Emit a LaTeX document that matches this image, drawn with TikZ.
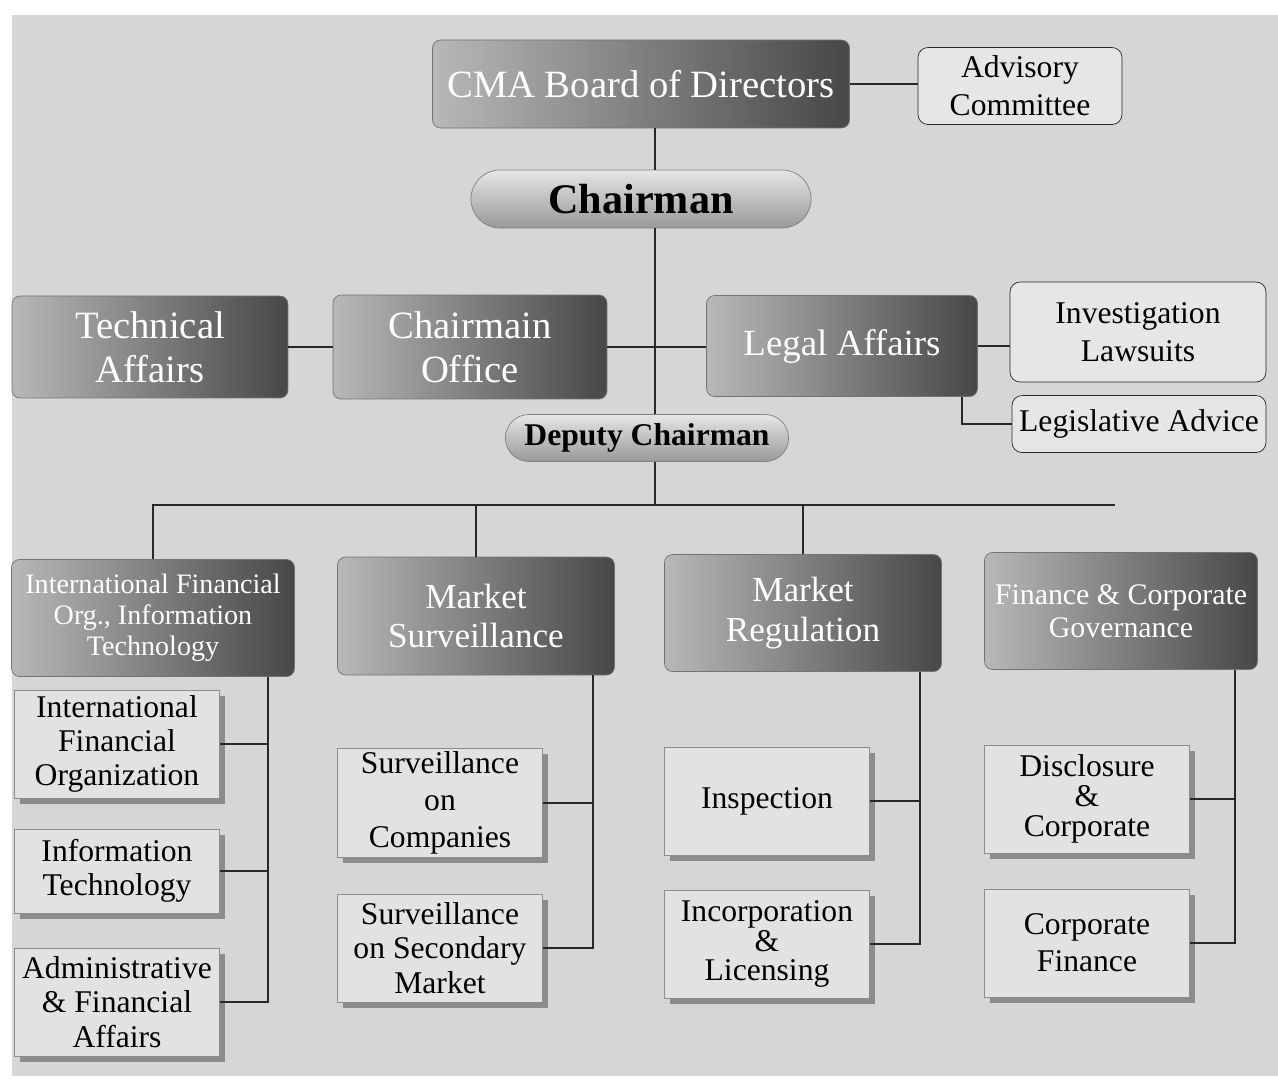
\documentclass[tikz,border=0pt]{standalone}
\usepackage{fontspec}
\setmainfont{Liberation Serif}
\usepackage{xcolor}
\definecolor{PaperGray}{RGB}{214,214,214}
\definecolor{BoxLight}{RGB}{226,226,226}
\definecolor{LineGray}{RGB}{40,40,40}
\usepackage{tikz}
\usetikzlibrary{
    positioning,
    shadows,
    shapes.misc
}

\begin{document}
\begin{tikzpicture}[
    x=0.02cm,y=-0.02cm,
    darkbox/.style={
        rounded corners=1.6mm,
        left color=black!28,
        right color=black!72,
        draw=black!55,
        text=white,
        align=center,
        inner sep=2pt
    },
    subbox/.style={
        draw=black!45,
        fill=BoxLight,
        align=center,
        inner sep=2pt,
        minimum width=41mm,
        drop shadow={shadow xshift=1.1mm, shadow yshift=-1.1mm, fill=black!45, opacity=1},
        font=\fontsize{18}{19.5}\selectfont
    },
    notebox/.style={
        draw=black!85,
        fill=PaperGray!60!white,
        rounded corners=2mm,
        align=center,
        font=\fontsize{18}{21.5}\selectfont
    },
    pillbox/.style={
        rounded rectangle,
        top color=black!10,
        bottom color=black!40,
        draw=black!50
    },
    link/.style={
        draw=LineGray,
        line width=0.8pt
    }
]
%
    \useasboundingbox (0,0) rectangle (1278,1086);
    \fill[white] (0,0) rectangle (1278,1086);
    \fill[PaperGray] (12,15) rectangle (1278,1076);
%
    % Top of the chart
%
    \node[
        darkbox,
        minimum width=83.4mm,
        minimum height=17.6mm,
        font=\fontsize{22}{25}\selectfont
    ] (board) at (641,84) {CMA Board of Directors};
%
    \node[
        notebox,
        minimum width=40.8mm,
        minimum height=15.4mm
    ] (advisory) at (1020,86) {Advisory\\Committee};
%
    \node[
        pillbox,
        minimum width=70.4mm,
        minimum height=11.6mm,
        font=\fontsize{24}{26}\selectfont\bfseries
    ] (chair) at (641,199) {Chairman};
%
    \node[
        darkbox,
        minimum width=55.2mm,
        minimum height=20.4mm,
        font=\fontsize{22}{25}\selectfont
    ] (technical) at (150,347) {Technical\\Affairs};
%
    \node[
        darkbox,
        minimum width=54.8mm,
        minimum height=20.8mm,
        font=\fontsize{22}{25}\selectfont
    ] (office) at (470,347) {Chairmain\\Office};
%
    \node[
        darkbox,
        minimum width=54.2mm,
        minimum height=20.2mm,
        font=\fontsize{21}{24}\selectfont
    ] (legal) at (842,346) {Legal Affairs};
%
    \node[
        notebox,
        minimum width=51.2mm,
        minimum height=20mm
    ] (invest) at (1138,332) {Investigation\\Lawsuits};
%
    \node[
        notebox,
        minimum width=50.8mm,
        minimum height=11.4mm
    ] (legis) at (1139,424) {Legislative Advice};
%
    \node[
        pillbox,
        minimum width=59mm,
        minimum height=9.4mm,
        font=\fontsize{18}{20}\selectfont\bfseries
    ] (deputy) at (647,438) {Deputy Chairman};
%
    % Departments
%
    \node[
        darkbox,
        minimum width=56.6mm,
        minimum height=23.4mm,
        font=\fontsize{16}{17.5}\selectfont
    ] (ifo) at (153,618) {International Financial\\Org., Information\\Technology};
%
    \node[
        darkbox,
        minimum width=55.4mm,
        minimum height=23.6mm,
        font=\fontsize{20}{22.5}\selectfont
    ] (msurv) at (476,616) {Market\\Surveillance};
%
    \node[
        darkbox,
        minimum width=55.4mm,
        minimum height=23.4mm,
        font=\fontsize{20}{22.5}\selectfont
    ] (mreg) at (803,613) {Market\\Regulation};
%
    \node[
        darkbox,
        minimum width=54.6mm,
        minimum height=23.4mm,
        font=\fontsize{17}{19}\selectfont
    ] (fincg) at (1121,611) {Finance \& Corporate\\Governance};
%
    % Sections
%
    \node[subbox, minimum height=21.6mm] (ifo-intl) at (117,744) {International\\Financial\\Organization};
    \node[subbox, minimum height=16.8mm] (ifo-it) at (117,871) {Information\\Technology};
    \node[subbox, minimum height=21.6mm] (ifo-admin) at (117,1002) {Administrative\\\& Financial\\Affairs};
%
    \node[subbox, minimum height=21.6mm, font=\fontsize{18}{21}\selectfont] (surv-comp) at (440,803) {Surveillance\\on\\Companies};
    \node[subbox, minimum height=21.6mm] (surv-sec) at (440,948) {Surveillance\\on Secondary\\Market};
%
    \node[subbox, minimum height=21.6mm] (reg-insp) at (767,801) {Inspection};
    \node[subbox, minimum height=21.6mm, font=\fontsize{18}{17}\selectfont] (reg-inc) at (767,944) {Incorporation\\\&\\Licensing};
%
    \node[subbox, minimum height=21.6mm, font=\fontsize{18}{17}\selectfont] (fin-disc) at (1087,799) {Disclosure\\\&\\Corporate};
    \node[subbox, minimum height=21.6mm, font=\fontsize{18}{21}\selectfont] (fin-corp) at (1087,943) {Corporate\\Finance};
%
    % Connectors
%
    \coordinate (spine) at (655,0);
    \coordinate (bus-end) at (1115,505);
    \coordinate (legal-drop) at (962,0);
%
    \draw[link] (board.south -| spine) -- (chair.north -| spine);
    \draw[link] (board.east) -- (board.east -| advisory.west);
    \draw[link] (chair.south -| spine) -- (deputy.north -| spine);
    \draw[link] (technical.east) -- (office.west);
    \draw[link] (office.east) -- (office.east -| legal.west);
    \draw[link] (legal.east) -- (legal.east -| invest.west);
    \draw[link] (legal.south -| legal-drop) |- (legis.west);
%
    \draw[link] (deputy.south -| spine) -- (spine |- bus-end);
    \draw[link] (ifo.north) |- (bus-end);
    \draw[link] (msurv.north) -- (msurv.north |- bus-end);
    \draw[link] (mreg.north) -- (mreg.north |- bus-end);
%
    \coordinate (ifo-bus) at (268,0);
    \draw[link] (ifo.south -| ifo-bus) |- (ifo-admin.east);
    \draw[link] (ifo-intl.east) -- (ifo-intl.east -| ifo-bus);
    \draw[link] (ifo-it.east) -- (ifo-it.east -| ifo-bus);
%
    \coordinate (surv-bus) at (593,0);
    \draw[link] (msurv.south -| surv-bus) |- (surv-sec.east);
    \draw[link] (surv-comp.east) -- (surv-comp.east -| surv-bus);
%
    \coordinate (reg-bus) at (920,0);
    \draw[link] (mreg.south -| reg-bus) |- (reg-inc.east);
    \draw[link] (reg-insp.east) -- (reg-insp.east -| reg-bus);
%
    \coordinate (fin-bus) at (1235,0);
    \draw[link] (fincg.south -| fin-bus) |- (fin-corp.east);
    \draw[link] (fin-disc.east) -- (fin-disc.east -| fin-bus);
%
\end{tikzpicture}
\end{document}
